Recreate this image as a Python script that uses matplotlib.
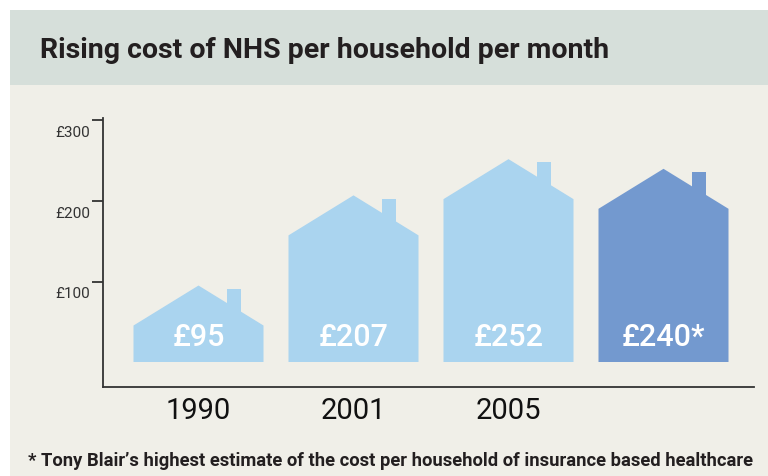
import matplotlib
matplotlib.use("Agg")
import matplotlib.pyplot as plt
from matplotlib.patches import Polygon, Rectangle
from matplotlib.transforms import ScaledTranslation

years = ["1990", "2001", "2005", ""]
values = [95, 207, 252, 240]
labels = ["£95", "£207", "£252", "£240*"]
colors = ["#aad4ef", "#aad4ef", "#aad4ef", "#7399cf"]
yticks = [100, 200, 300]
yticklabels = ["£100", "£200", "£300"]
title = "Rising cost of NHS per household per month"
footnote = "* Tony Blair\u2019s highest estimate of the cost per household of insurance based healthcare"

W, H = 768, 476
fig = plt.figure(figsize=(W / 100, H / 100), dpi=100)
fig.patch.set_facecolor("white")

def fx(px):
    return px / W

def fy(py):
    return 1 - py / H

# panel background and title band
fig.patches.append(Rectangle((fx(10), 0), 1 - fx(10), fy(10), transform=fig.transFigure,
                             facecolor="#f0efe8", edgecolor="none", zorder=-2))
fig.patches.append(Rectangle((fx(10), fy(85)), 1 - fx(10), fy(10) - fy(85), transform=fig.transFigure,
                             facecolor="#d6dfda", edgecolor="none", zorder=-1))

fig.text(fx(40), fy(51), title, fontsize=20.5, fontweight="bold", family="Roboto",
         color="#231f20", va="center", ha="left")
fig.text(fx(28), fy(461), footnote, fontsize=13.2, fontweight="bold", family="Roboto",
         color="#231f20", va="center", ha="left")

# axes: y zero at 362px, 0.805 px/unit
scale = 0.805
ax_left, ax_right = 103, 754
ax_top, ax_bot = 118, 387
ax = fig.add_axes([fx(ax_left), fy(ax_bot), fx(ax_right - ax_left), (ax_bot - ax_top) / H])
ax.set_zorder(1)
ax.set_facecolor("none")
ax.set_ylim(-(ax_bot - 362) / scale, (362 - ax_top) / scale)
spacing = 155.0
ax.set_xlim((ax_left - 198.5) / spacing, (ax_right - 198.5) / spacing)

width = 130 / spacing
roof = 40 / scale
for i, (v, c, lab) in enumerate(zip(values, colors, labels)):
    x0 = i - width / 2
    x1 = i + width / 2
    eave = v - roof
    chim_top = v - 4
    cx0 = x0 + 0.72 * width
    cx1 = x0 + 0.83 * width
    house = Polygon([(x0, 0), (x0, eave), (i, v), (x1, eave), (x1, 0)], closed=True,
                    facecolor=c, edgecolor="none", zorder=2)
    ax.add_patch(house)
    ax.add_patch(Rectangle((cx0, eave), cx1 - cx0, chim_top - eave, facecolor=c,
                           edgecolor="none", zorder=2))
    ax.text(i, 30, lab, color="white", fontsize=22, fontweight="medium", family="Roboto",
            ha="center", va="center", zorder=3)

for s in ["top", "right"]:
    ax.spines[s].set_visible(False)
for s in ["left", "bottom"]:
    ax.spines[s].set_color("#333333")
    ax.spines[s].set_linewidth(1.3)

ax.set_yticks(yticks)
ax.set_yticklabels(yticklabels, fontsize=11, family="Roboto", color="#333333")
ax.tick_params(axis="y", direction="out", length=8, width=1.3, color="#333333", pad=1)
off = ScaledTranslation(0, -11 / 100, fig.dpi_scale_trans)
for t in ax.get_yticklabels():
    t.set_transform(t.get_transform() + off)

ax.set_xticks(range(len(years)))
ax.set_xticklabels(years, fontsize=21, family="Roboto", fontweight="normal", color="#111111")
ax.tick_params(axis="x", length=0, pad=7)

fig.savefig("out.png", dpi=100, facecolor=fig.get_facecolor())
